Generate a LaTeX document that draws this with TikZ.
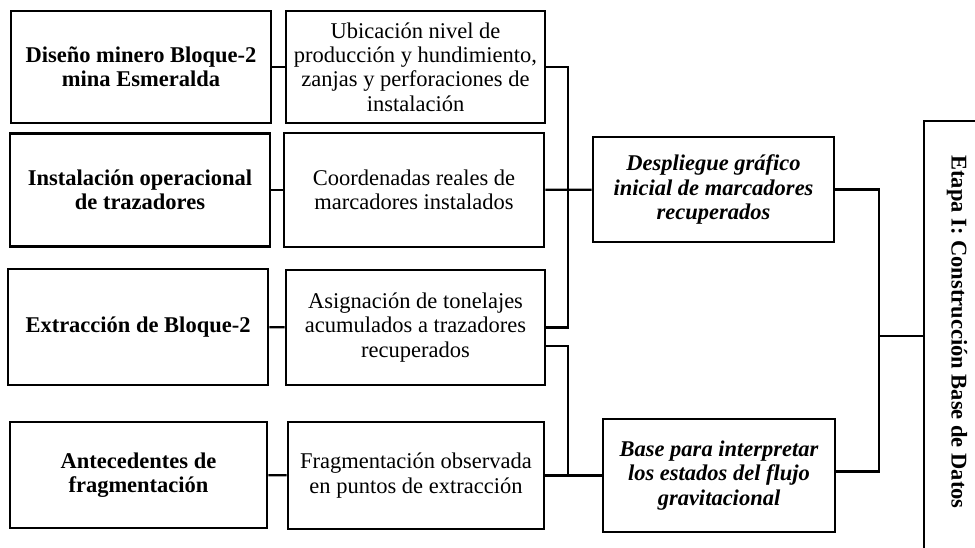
\documentclass[tikz,border=0pt]{standalone}
\usepackage{fontspec}
\setmainfont{Liberation Serif}
\begin{document}
\begin{tikzpicture}[x=1pt,y=-1pt,
  box/.style={draw=black,line width=2.6pt,rectangle,inner sep=0pt,align=center,
    font=\fontsize{22.5}{24.2}\selectfont},
  boldbox/.style={box,font=\fontsize{22.5}{24.2}\selectfont\bfseries},
  itbox/.style={box,font=\fontsize{22.5}{24.2}\selectfont\bfseries\itshape},
  conn/.style={draw=black,line width=2.2pt}]
\clip (0,0) rectangle (975,548);
\fill[white] (0,0) rectangle (975,548);
% column 1
\node[boldbox,minimum width=260,minimum height=112] (A1) at (141,67) {Diseño minero Bloque-2\\mina Esmeralda};
\node[boldbox,minimum width=260,minimum height=113] (A2) at (140,190) {Instalación operacional\\de trazadores};
\node[boldbox,minimum width=260,minimum height=116] (A3) at (138,327) {Extracción de Bloque-2};
\node[boldbox,minimum width=257,minimum height=106] (A4) at (138.5,475) {Antecedentes de\\fragmentación};
% column 2
\node[box,minimum width=259,minimum height=112] (B1) at (415.5,67) {Ubicación nivel de\\producción y hundimiento,\\zanjas y perforaciones de\\instalación};
\node[box,minimum width=260,minimum height=114] (B2) at (414,190) {Coordenadas reales de\\marcadores instalados};
\node[box,minimum width=259,minimum height=115] (B3) at (415.5,327.5) {Asignación de tonelajes\\acumulados a trazadores\\recuperados};
\node[box,minimum width=256,minimum height=107] (B4) at (416,475.5) {Fragmentación observada\\en puntos de extracción};
% column 3
\node[itbox,minimum width=241,minimum height=105] (C1) at (713.5,189.5) {Despliegue gráfico\\inicial de marcadores\\recuperados};
\node[itbox,minimum width=232,minimum height=113] (C2) at (719,475.5) {Base para interpretar\\los estados del flujo\\gravitacional};
% final box
\node[draw=black,line width=2.6pt,rectangle,minimum width=70,minimum height=440,inner sep=0pt] (D) at (959,341) {};
\node[font=\fontsize{22.5}{24.2}\selectfont\bfseries,rotate=-90,inner sep=0pt] (Dt) at (957,332) {Etapa I: Construcción Base de Datos};
% connectors
\coordinate (j1) at (568,190);
\coordinate (j2) at (568,475.5);
\coordinate (j3) at (879,336);
\draw[conn] (A1) -- (B1);
\draw[conn] (A2) -- (B2);
\draw[conn] (A3) -- (B3);
\draw[conn] (A4) -- (B4);
\draw[conn] (B1.east) -| (j1) |- (B3.east);
\draw[conn] (B2) -- (C1);
\draw[conn] ([yshift=-18.5pt]B3.east) -| (j2) -- (C2.west);
\draw[conn] (B4) -- (j2);
\draw[conn] (C1.east) -| (j3) |- ([yshift=4pt]C2.east);
\draw[conn] (j3) -- (j3 -| D.west);
\end{tikzpicture}
\end{document}
